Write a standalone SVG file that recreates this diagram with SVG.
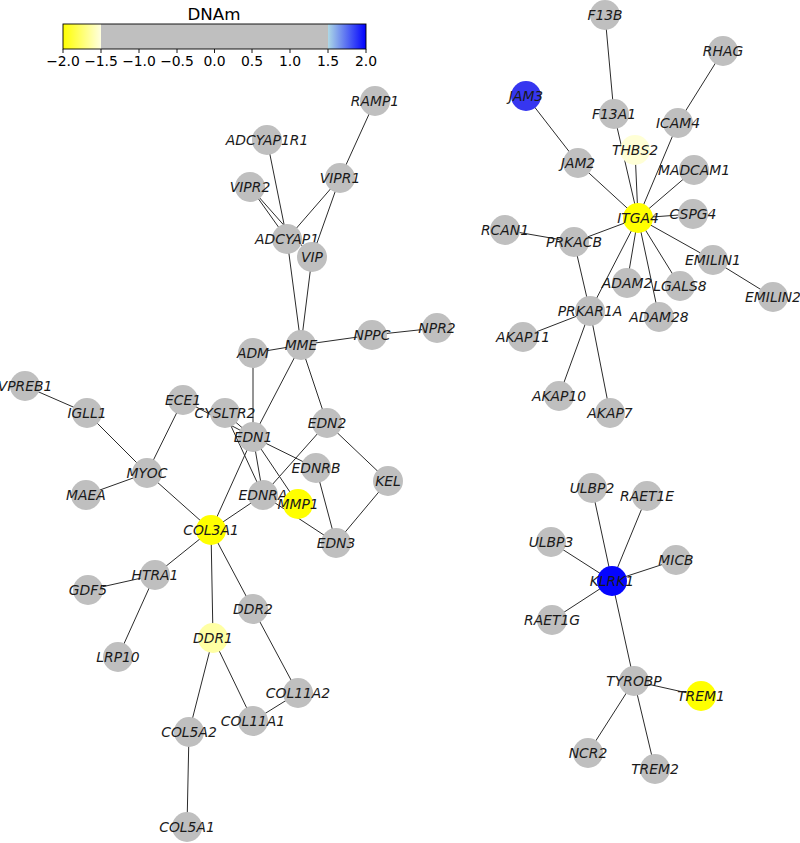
<svg xmlns="http://www.w3.org/2000/svg" width="800" height="843" viewBox="0 0 800 843">
<defs>
<style>
.n{fill:#bfbfbf}
.y{fill:#ffff00}
.t{font-family:"DejaVu Sans",sans-serif;font-style:italic;font-size:13.9px;fill:#1a1a1a;text-anchor:middle;dominant-baseline:central}
.e line{stroke:#2b2b2b;stroke-width:1}
.tk{font-family:"DejaVu Sans",sans-serif;font-size:13.9px;fill:#000;text-anchor:middle}
</style>
<linearGradient id="gy" x1="0" x2="1" y1="0" y2="0"><stop offset="0" stop-color="#ffff00"/><stop offset="1" stop-color="#ffffe0"/></linearGradient>
<linearGradient id="gb" x1="0" x2="1" y1="0" y2="0"><stop offset="0" stop-color="#add8e6"/><stop offset="1" stop-color="#0000ff"/></linearGradient>
</defs>
<rect width="800" height="843" fill="#fff"/>
<g id="colorbar">
<text x="214" y="20" font-family="DejaVu Sans,sans-serif" font-size="16.7" text-anchor="middle">DNAm</text>
<rect x="63" y="24" width="38" height="25" fill="url(#gy)"/>
<rect x="101" y="24" width="227" height="25" fill="#bfbfbf"/>
<rect x="328" y="24" width="38" height="25" fill="url(#gb)"/>
<rect x="63" y="24" width="303" height="25" fill="none" stroke="#000" stroke-width="0.9"/>
<g stroke="#000" stroke-width="0.9">
<line x1="63" y1="49" x2="63" y2="53"/><line x1="101" y1="49" x2="101" y2="53"/><line x1="139" y1="49" x2="139" y2="53"/><line x1="177" y1="49" x2="177" y2="53"/><line x1="214.5" y1="49" x2="214.5" y2="53"/><line x1="252" y1="49" x2="252" y2="53"/><line x1="290" y1="49" x2="290" y2="53"/><line x1="328" y1="49" x2="328" y2="53"/><line x1="366" y1="49" x2="366" y2="53"/>
</g>
<text class="tk" x="63" y="66">−2.0</text><text class="tk" x="101" y="66">−1.5</text><text class="tk" x="139" y="66">−1.0</text><text class="tk" x="177" y="66">−0.5</text><text class="tk" x="214.5" y="66">0.0</text><text class="tk" x="252" y="66">0.5</text><text class="tk" x="290" y="66">1.0</text><text class="tk" x="328" y="66">1.5</text><text class="tk" x="366" y="66">2.0</text>
</g>
<g id="edges" class="e">
<line x1="375" y1="101" x2="340" y2="178"/>
<line x1="267" y1="140" x2="287" y2="239"/>
<line x1="250" y1="187" x2="287" y2="239"/>
<line x1="250" y1="187" x2="312" y2="257"/>
<line x1="340" y1="178" x2="287" y2="239"/>
<line x1="340" y1="178" x2="312" y2="257"/>
<line x1="287" y1="239" x2="301" y2="345"/>
<line x1="312" y1="257" x2="301" y2="345"/>
<line x1="253" y1="353" x2="301" y2="345"/>
<line x1="301" y1="345" x2="372" y2="335"/>
<line x1="372" y1="335" x2="437" y2="328"/>
<line x1="301" y1="345" x2="253" y2="437"/>
<line x1="301" y1="345" x2="327" y2="423"/>
<line x1="253" y1="353" x2="253" y2="437"/>
<line x1="183" y1="400" x2="253" y2="437"/>
<line x1="225" y1="413" x2="253" y2="437"/>
<line x1="225" y1="413" x2="263" y2="495"/>
<line x1="253" y1="437" x2="263" y2="495"/>
<line x1="253" y1="437" x2="298" y2="504"/>
<line x1="253" y1="437" x2="316" y2="468"/>
<line x1="253" y1="437" x2="211" y2="530"/>
<line x1="327" y1="423" x2="263" y2="495"/>
<line x1="327" y1="423" x2="388" y2="481"/>
<line x1="316" y1="468" x2="336" y2="543"/>
<line x1="388" y1="481" x2="336" y2="543"/>
<line x1="263" y1="495" x2="336" y2="543"/>
<line x1="263" y1="495" x2="211" y2="530"/>
<line x1="183" y1="400" x2="147" y2="473"/>
<line x1="25" y1="386" x2="87" y2="413"/>
<line x1="87" y1="413" x2="147" y2="473"/>
<line x1="86" y1="495" x2="147" y2="473"/>
<line x1="147" y1="473" x2="211" y2="530"/>
<line x1="211" y1="530" x2="155" y2="575"/>
<line x1="155" y1="575" x2="88" y2="590"/>
<line x1="155" y1="575" x2="118" y2="657"/>
<line x1="211" y1="530" x2="213" y2="638"/>
<line x1="211" y1="530" x2="253" y2="609"/>
<line x1="253" y1="609" x2="298" y2="693"/>
<line x1="213" y1="638" x2="253" y2="721"/>
<line x1="253" y1="721" x2="298" y2="693"/>
<line x1="213" y1="638" x2="189" y2="732"/>
<line x1="189" y1="732" x2="187" y2="827"/>
<line x1="605" y1="15" x2="614" y2="114"/>
<line x1="614" y1="114" x2="638" y2="218"/>
<line x1="635" y1="150" x2="638" y2="218"/>
<line x1="723" y1="51" x2="678" y2="123"/>
<line x1="678" y1="123" x2="638" y2="218"/>
<line x1="526" y1="96" x2="578" y2="163"/>
<line x1="578" y1="163" x2="638" y2="218"/>
<line x1="694" y1="170" x2="638" y2="218"/>
<line x1="693" y1="214" x2="638" y2="218"/>
<line x1="713" y1="260" x2="638" y2="218"/>
<line x1="713" y1="260" x2="773" y2="297"/>
<line x1="680" y1="286" x2="638" y2="218"/>
<line x1="659" y1="317" x2="638" y2="218"/>
<line x1="627" y1="283" x2="638" y2="218"/>
<line x1="590" y1="311" x2="638" y2="218"/>
<line x1="574" y1="242" x2="638" y2="218"/>
<line x1="505" y1="230" x2="574" y2="242"/>
<line x1="574" y1="242" x2="590" y2="311"/>
<line x1="590" y1="311" x2="523" y2="337"/>
<line x1="590" y1="311" x2="559" y2="396"/>
<line x1="590" y1="311" x2="610" y2="413"/>
<line x1="592" y1="488" x2="612" y2="581"/>
<line x1="647" y1="496" x2="612" y2="581"/>
<line x1="551" y1="542" x2="612" y2="581"/>
<line x1="676" y1="560" x2="612" y2="581"/>
<line x1="552" y1="620" x2="612" y2="581"/>
<line x1="612" y1="581" x2="634" y2="681"/>
<line x1="634" y1="681" x2="701" y2="696"/>
<line x1="634" y1="681" x2="588" y2="753"/>
<line x1="634" y1="681" x2="655" y2="769"/>
</g>
<g id="RAMP1"><circle class="n" cx="375" cy="101" r="15"/><text class="t" x="375" y="101">RAMP1</text></g>
<g id="ADCYAP1R1"><circle class="n" cx="267" cy="140" r="15"/><text class="t" x="267" y="140">ADCYAP1R1</text></g>
<g id="VIPR2"><circle class="n" cx="250" cy="187" r="15"/><text class="t" x="250" y="187">VIPR2</text></g>
<g id="VIPR1"><circle class="n" cx="340" cy="178" r="15"/><text class="t" x="340" y="178">VIPR1</text></g>
<g id="ADCYAP1"><circle class="n" cx="287" cy="239" r="15"/><text class="t" x="287" y="239">ADCYAP1</text></g>
<g id="VIP"><circle class="n" cx="312" cy="257" r="15"/><text class="t" x="312" y="257">VIP</text></g>
<g id="MME"><circle class="n" cx="301" cy="345" r="15"/><text class="t" x="301" y="345">MME</text></g>
<g id="ADM"><circle class="n" cx="253" cy="353" r="15"/><text class="t" x="253" y="353">ADM</text></g>
<g id="NPPC"><circle class="n" cx="372" cy="335" r="15"/><text class="t" x="372" y="335">NPPC</text></g>
<g id="NPR2"><circle class="n" cx="437" cy="328" r="15"/><text class="t" x="437" y="328">NPR2</text></g>
<g id="VPREB1"><circle class="n" cx="25" cy="386" r="15"/><text class="t" x="25" y="386">VPREB1</text></g>
<g id="IGLL1"><circle class="n" cx="87" cy="413" r="15"/><text class="t" x="87" y="413">IGLL1</text></g>
<g id="ECE1"><circle class="n" cx="183" cy="400" r="15"/><text class="t" x="183" y="400">ECE1</text></g>
<g id="CYSLTR2"><circle class="n" cx="225" cy="413" r="15"/><text class="t" x="225" y="413">CYSLTR2</text></g>
<g id="EDN1"><circle class="n" cx="253" cy="437" r="15"/><text class="t" x="253" y="437">EDN1</text></g>
<g id="EDN2"><circle class="n" cx="327" cy="423" r="15"/><text class="t" x="327" y="423">EDN2</text></g>
<g id="EDNRB"><circle class="n" cx="316" cy="468" r="15"/><text class="t" x="316" y="468">EDNRB</text></g>
<g id="KEL"><circle class="n" cx="388" cy="481" r="15"/><text class="t" x="388" y="481">KEL</text></g>
<g id="MYOC"><circle class="n" cx="147" cy="473" r="15"/><text class="t" x="147" y="473">MYOC</text></g>
<g id="MAEA"><circle class="n" cx="86" cy="495" r="15"/><text class="t" x="86" y="495">MAEA</text></g>
<g id="EDNRA"><circle class="n" cx="263" cy="495" r="15"/><text class="t" x="263" y="495">EDNRA</text></g>
<g id="MMP1"><circle class="y" cx="298" cy="504" r="15"/><text class="t" x="298" y="504">MMP1</text></g>
<g id="EDN3"><circle class="n" cx="336" cy="543" r="15"/><text class="t" x="336" y="543">EDN3</text></g>
<g id="COL3A1"><circle class="y" cx="211" cy="530" r="15"/><text class="t" x="211" y="530">COL3A1</text></g>
<g id="HTRA1"><circle class="n" cx="155" cy="575" r="15"/><text class="t" x="155" y="575">HTRA1</text></g>
<g id="GDF5"><circle class="n" cx="88" cy="590" r="15"/><text class="t" x="88" y="590">GDF5</text></g>
<g id="DDR2"><circle class="n" cx="253" cy="609" r="15"/><text class="t" x="253" y="609">DDR2</text></g>
<g id="DDR1"><circle cx="213" cy="638" r="15" fill="#ffffa4"/><text class="t" x="213" y="638">DDR1</text></g>
<g id="LRP10"><circle class="n" cx="118" cy="657" r="15"/><text class="t" x="118" y="657">LRP10</text></g>
<g id="COL11A2"><circle class="n" cx="298" cy="693" r="15"/><text class="t" x="298" y="693">COL11A2</text></g>
<g id="COL11A1"><circle class="n" cx="253" cy="721" r="15"/><text class="t" x="253" y="721">COL11A1</text></g>
<g id="COL5A2"><circle class="n" cx="189" cy="732" r="15"/><text class="t" x="189" y="732">COL5A2</text></g>
<g id="COL5A1"><circle class="n" cx="187" cy="827" r="15"/><text class="t" x="187" y="827">COL5A1</text></g>
<g id="F13B"><circle class="n" cx="605" cy="15" r="15"/><text class="t" x="605" y="15">F13B</text></g>
<g id="RHAG"><circle class="n" cx="723" cy="51" r="15"/><text class="t" x="723" y="51">RHAG</text></g>
<g id="JAM3"><circle cx="526" cy="96" r="15" fill="#3636f0"/><text class="t" x="526" y="96">JAM3</text></g>
<g id="F13A1"><circle class="n" cx="614" cy="114" r="15"/><text class="t" x="614" y="114">F13A1</text></g>
<g id="ICAM4"><circle class="n" cx="678" cy="123" r="15"/><text class="t" x="678" y="123">ICAM4</text></g>
<g id="THBS2"><circle cx="635" cy="150" r="15" fill="#ffffd6"/><text class="t" x="635" y="150">THBS2</text></g>
<g id="JAM2"><circle class="n" cx="578" cy="163" r="15"/><text class="t" x="578" y="163">JAM2</text></g>
<g id="MADCAM1"><circle class="n" cx="694" cy="170" r="15"/><text class="t" x="694" y="170">MADCAM1</text></g>
<g id="ITGA4"><circle class="y" cx="638" cy="218" r="15"/><text class="t" x="638" y="218">ITGA4</text></g>
<g id="CSPG4"><circle class="n" cx="693" cy="214" r="15"/><text class="t" x="693" y="214">CSPG4</text></g>
<g id="RCAN1"><circle class="n" cx="505" cy="230" r="15"/><text class="t" x="505" y="230">RCAN1</text></g>
<g id="PRKACB"><circle class="n" cx="574" cy="242" r="15"/><text class="t" x="574" y="242">PRKACB</text></g>
<g id="EMILIN1"><circle class="n" cx="713" cy="260" r="15"/><text class="t" x="713" y="260">EMILIN1</text></g>
<g id="ADAM2"><circle class="n" cx="627" cy="283" r="15"/><text class="t" x="627" y="283">ADAM2</text></g>
<g id="LGALS8"><circle class="n" cx="680" cy="286" r="15"/><text class="t" x="680" y="286">LGALS8</text></g>
<g id="EMILIN2"><circle class="n" cx="773" cy="297" r="15"/><text class="t" x="773" y="297">EMILIN2</text></g>
<g id="PRKAR1A"><circle class="n" cx="590" cy="311" r="15"/><text class="t" x="590" y="311">PRKAR1A</text></g>
<g id="ADAM28"><circle class="n" cx="659" cy="317" r="15"/><text class="t" x="659" y="317">ADAM28</text></g>
<g id="AKAP11"><circle class="n" cx="523" cy="337" r="15"/><text class="t" x="523" y="337">AKAP11</text></g>
<g id="AKAP10"><circle class="n" cx="559" cy="396" r="15"/><text class="t" x="559" y="396">AKAP10</text></g>
<g id="AKAP7"><circle class="n" cx="610" cy="413" r="15"/><text class="t" x="610" y="413">AKAP7</text></g>
<g id="ULBP2"><circle class="n" cx="592" cy="488" r="15"/><text class="t" x="592" y="488">ULBP2</text></g>
<g id="RAET1E"><circle class="n" cx="647" cy="496" r="15"/><text class="t" x="647" y="496">RAET1E</text></g>
<g id="ULBP3"><circle class="n" cx="551" cy="542" r="15"/><text class="t" x="551" y="542">ULBP3</text></g>
<g id="MICB"><circle class="n" cx="676" cy="560" r="15"/><text class="t" x="676" y="560">MICB</text></g>
<g id="KLRK1"><circle cx="612" cy="581" r="15" fill="#0505ff"/><text class="t" x="612" y="581">KLRK1</text></g>
<g id="RAET1G"><circle class="n" cx="552" cy="620" r="15"/><text class="t" x="552" y="620">RAET1G</text></g>
<g id="TYROBP"><circle class="n" cx="634" cy="681" r="15"/><text class="t" x="634" y="681">TYROBP</text></g>
<g id="TREM1"><circle class="y" cx="701" cy="696" r="15"/><text class="t" x="701" y="696">TREM1</text></g>
<g id="NCR2"><circle class="n" cx="588" cy="753" r="15"/><text class="t" x="588" y="753">NCR2</text></g>
<g id="TREM2"><circle class="n" cx="655" cy="769" r="15"/><text class="t" x="655" y="769">TREM2</text></g>
</svg>
